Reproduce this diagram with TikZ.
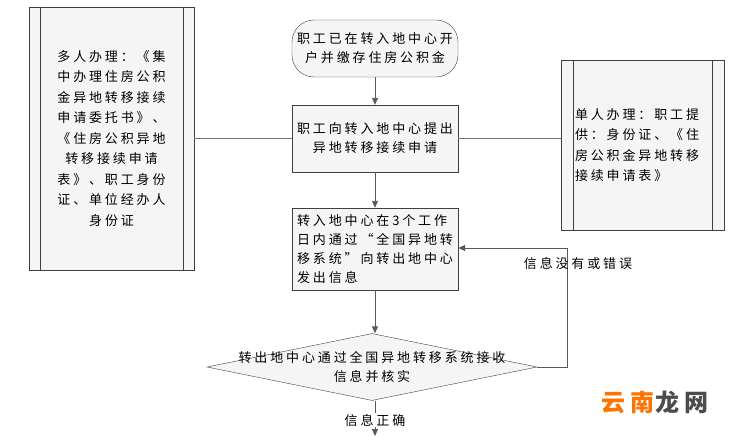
\documentclass[tikz,border=0pt]{standalone}
\usepackage{fontspec}
\setmainfont{Noto Sans CJK SC}[LetterSpace=22]
\usetikzlibrary{shapes.geometric,arrows.meta}
\tikzset{
  box/.style={draw=black!75,fill=black!4,minimum width=166pt,align=center,font=\fontsize{13}{19}\selectfont,inner sep=2pt},
  line/.style={draw=black!55,line width=0.9pt},
  flow/.style={line,-{Triangle[length=7pt,width=6pt]},draw=black!65}
}
\begin{document}
\begin{tikzpicture}[x=1pt,y=-1pt]
\useasboundingbox (0,0) rectangle (736,436);
% side boxes
\node[box,minimum width=165pt,minimum height=263pt] (multi) at (111.5,138.5) {};
\draw[draw=black!75] (40,7) -- (40,270) (183,7) -- (183,270);
\node[align=center,font=\fontsize{13}{20.5}\selectfont,text width=140pt] at (111.5,138.5)
  {多人办理：《集\\中办理住房公积\\金异地转移接续\\申请委托书》、\\《住房公积异地\\转移接续申请\\表》、职工身份\\证、单位经办人\\身份证};
\node[box,minimum width=163pt,minimum height=170pt] (single) at (642.5,145) {};
\draw[draw=black!75] (573,60) -- (573,230) (712,60) -- (712,230);
\node[align=left,font=\fontsize{13}{20.5}\selectfont,text width=136pt] at (643,145)
  {单人办理：职工提\\供：身份证、《住\\房公积金异地转移\\接续申请表》};
% main flow
\node[box,rounded corners=22pt,minimum height=57pt] (open) at (375,48.5) {职工已在转入地中心开\\户并缴存住房公积金};
\node[box,minimum height=67pt] (apply) at (375,138.5) {职工向转入地中心提出\\异地转移接续申请};
\node[box,minimum height=82pt,align=left] (send) at (375,249) {转入地中心在3个工作\\日内通过“全国异地转\\移系统”向转出地中心\\发出信息};
\node[diamond,draw=black!75,fill=black!4,aspect=4.9,minimum width=330pt,minimum height=67pt,inner sep=0pt] (check) at (372,367) {};
\node[align=center,font=\fontsize{13}{19}\selectfont] at (372,367) {转出地中心通过全国异地转移系统接收\\信息并核实};
\coordinate (loop) at (567,367);
\coordinate (out) at (375,436);
% connectors
\draw[line] (multi.east) -- (apply.west);
\draw[line] (apply.east -| single.west) -- (apply.east);
\draw[flow] (open) -- (apply);
\draw[flow] (apply) -- (send);
\draw[flow] (send) -- (check.north -| send);
\draw[flow] (check.east) -- (loop) -- (loop |- 0,248) -- (send.east |- 0,248);
\node[font=\fontsize{13}{16}\selectfont] at (578,264) {信息没有或错误};
\draw[flow] (check.south -| out) -- (out) node[pos=0.55,fill=white,font=\fontsize{13}{16}\selectfont,inner sep=1pt] {信息正确};
% watermark
\node[font=\fontsize{24}{24}\bfseries\selectfont,text=orange!90!red] at (655,402) {云南\textcolor{black!70}{龙网}};
\end{tikzpicture}
\end{document}
